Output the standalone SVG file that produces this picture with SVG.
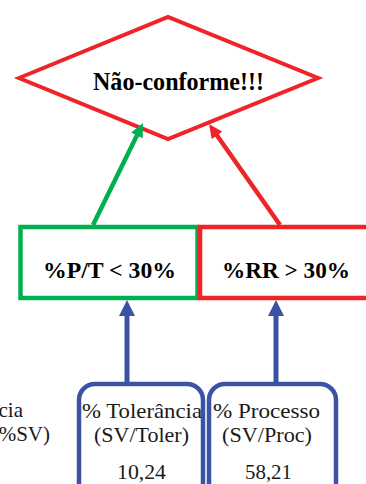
<svg xmlns="http://www.w3.org/2000/svg" width="366" height="484" viewBox="0 0 366 484">
<defs>
<style>
.bold{font-family:"Liberation Serif","Times New Roman",serif;font-weight:bold;fill:#000}
.reg{font-family:"Liberation Serif","Times New Roman",serif;font-size:21px;fill:#1a1a1a}
.rbox{fill:none;stroke:#3A53A4;stroke-width:4.5}
</style>
<marker id="ahG" viewBox="0 0 14 13" refX="4" refY="6.5" markerWidth="14" markerHeight="13" markerUnits="userSpaceOnUse" orient="auto"><path d="M0,0 L14,6.5 L0,13 z" fill="#00AF50"/></marker>
<marker id="ahR" viewBox="0 0 14 13" refX="4" refY="6.5" markerWidth="14" markerHeight="13" markerUnits="userSpaceOnUse" orient="auto"><path d="M0,0 L14,6.5 L0,13 z" fill="#EE2428"/></marker>
<marker id="ahB" viewBox="0 0 16 16" refX="6" refY="8" markerWidth="16" markerHeight="16" markerUnits="userSpaceOnUse" orient="auto"><path d="M0,0 L16,8 L0,16 z" fill="#3A53A4"/></marker>
</defs>
<rect width="366" height="484" fill="#fff"/>
<g id="decision">
<polygon points="19,78 168,17 318,78 168,139" fill="#fff" stroke="#EE2428" stroke-width="4"/>
<text class="bold" x="178.5" y="90" font-size="26" text-anchor="middle" textLength="171" lengthAdjust="spacingAndGlyphs">Não-conforme!!!</text>
</g>
<g id="pt">
<rect x="20.5" y="227" width="177" height="71" fill="#fff" stroke="#00AF50" stroke-width="4.5"/>
<text class="bold" x="109.5" y="278" font-size="24" text-anchor="middle" textLength="133" lengthAdjust="spacingAndGlyphs">%P/T &lt; 30%</text>
</g>
<g id="rr">
<rect x="200" y="227" width="180" height="71" fill="#fff" stroke="#EE2428" stroke-width="4.5"/>
<text class="bold" x="286" y="278" font-size="24" text-anchor="middle" textLength="128" lengthAdjust="spacingAndGlyphs">%RR &gt; 30%</text>
</g>
<g id="left-partial">
<text class="reg" x="23" y="417" text-anchor="end">cia</text>
<text class="reg" x="50" y="441" text-anchor="end">%SV)</text>
</g>
<g id="tolerancia">
<rect class="rbox" x="79" y="384" width="124" height="130" rx="16"/>
<text class="reg" x="142" y="418" text-anchor="middle" textLength="120" lengthAdjust="spacingAndGlyphs">% Tolerância</text>
<text class="reg" x="141.5" y="442" text-anchor="middle" textLength="95" lengthAdjust="spacingAndGlyphs">(SV/Toler)</text>
<text class="reg" x="141.5" y="479" text-anchor="middle" textLength="49" lengthAdjust="spacingAndGlyphs">10,24</text>
</g>
<g id="processo">
<rect class="rbox" x="209" y="384" width="127" height="130" rx="16"/>
<text class="reg" x="266.5" y="418" text-anchor="middle" textLength="107" lengthAdjust="spacingAndGlyphs">% Processo</text>
<text class="reg" x="267" y="442" text-anchor="middle" textLength="90" lengthAdjust="spacingAndGlyphs">(SV/Proc)</text>
<text class="reg" x="268.5" y="479" text-anchor="middle" textLength="47" lengthAdjust="spacingAndGlyphs">58,21</text>
</g>
<g id="connectors" fill="none" stroke-width="4.5">
<line x1="93" y1="225" x2="138.6" y2="132" stroke="#00AF50" marker-end="url(#ahG)"/>
<line x1="280" y1="225" x2="214.75" y2="132.2" stroke="#EE2428" marker-end="url(#ahR)"/>
<line x1="127" y1="382" x2="127" y2="310" stroke="#3A53A4" stroke-width="5" marker-end="url(#ahB)"/>
<line x1="276" y1="382" x2="276" y2="310" stroke="#3A53A4" stroke-width="5" marker-end="url(#ahB)"/>
</g>
</svg>
